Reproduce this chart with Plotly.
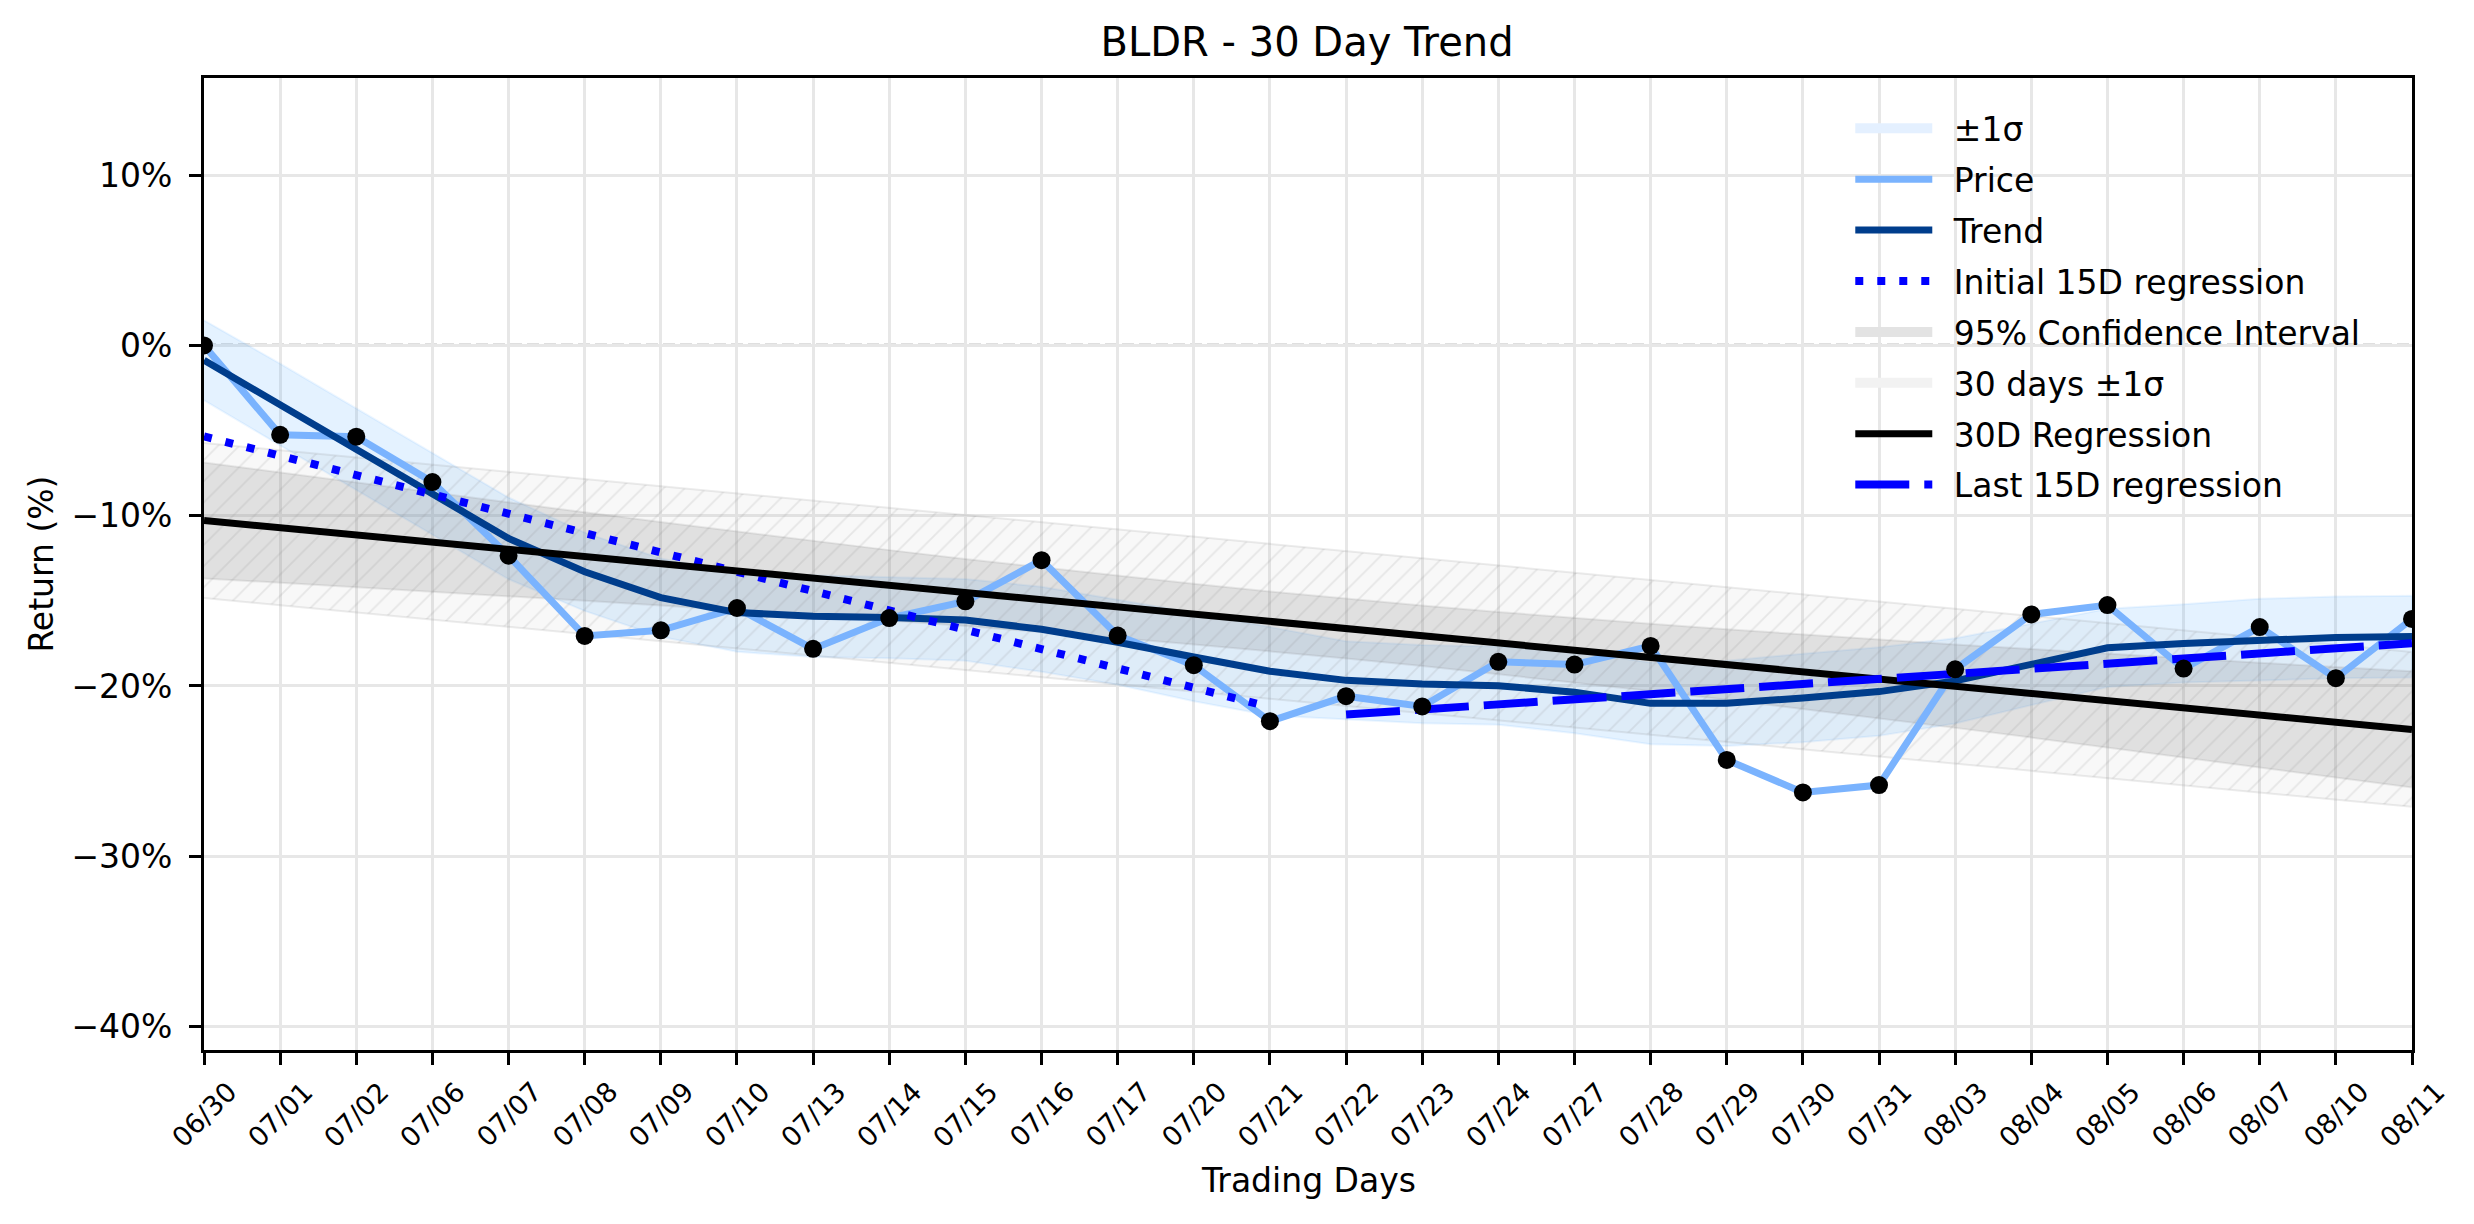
import plotly.graph_objects as go

days = ["06/30", "07/01", "07/02", "07/06", "07/07", "07/08", "07/09", "07/10",
        "07/13", "07/14", "07/15", "07/16", "07/17", "07/20", "07/21", "07/22",
        "07/23", "07/24", "07/27", "07/28", "07/29", "07/30", "07/31", "08/03",
        "08/04", "08/05", "08/06", "08/07", "08/10", "08/11"]

# cumulative return in %
price = [0.0, -5.25, -5.36, -8.02, -12.35, -17.06, -16.73, -15.42, -17.82, -16.01,
         -15.03, -12.61, -17.04, -18.78, -22.07, -20.6, -21.2, -18.58, -18.74, -17.65,
         -24.34, -26.25, -25.82, -19.02, -15.8, -15.25, -18.98, -16.54, -19.54, -16.06]

trend = [-0.87, -3.47, -6.1, -8.71, -11.33, -13.29, -14.81, -15.69, -15.9, -15.97,
         -16.12, -16.67, -17.43, -18.3, -19.13, -19.67, -19.89, -19.98, -20.37, -21.02,
         -21.02, -20.7, -20.33, -19.7, -18.74, -17.76, -17.5, -17.28, -17.15, -17.1]

# half width of the +-1 sigma band around the trend
trend_sigma = [2.35, 2.4, 2.4, 2.4, 2.4, 2.3, 2.3, 2.3, 2.4, 2.4,
               2.4, 2.5, 2.5, 2.6, 2.6, 2.3, 2.3, 2.3, 2.4, 2.4,
               2.5, 2.6, 2.6, 2.5, 2.4, 2.3, 2.3, 2.4, 2.4, 2.4]

reg30_days = ["06/30", "08/11"]
reg30_vals = [-10.28, -22.55]

ci_upper = [-6.87, -7.46, -8.06, -8.64, -9.22, -9.80, -10.37, -10.93, -11.47, -12.02,
            -12.54, -13.04, -13.54, -14.00, -14.45, -14.88, -15.27, -15.65, -16.01, -16.35,
            -16.67, -16.98, -17.28, -17.56, -17.83, -18.11, -18.37, -18.63, -18.89, -19.14]
ci_lower = [-13.69, -13.94, -14.20, -14.46, -14.72, -15.00, -15.27, -15.55, -15.85, -16.16,
            -16.48, -16.82, -17.18, -17.56, -17.95, -18.38, -18.83, -19.29, -19.79, -20.29,
            -20.81, -21.36, -21.90, -22.46, -23.03, -23.61, -24.19, -24.77, -25.37, -25.96]

sd30_upper = [-5.73, -18.0]
sd30_lower = [-14.83, -27.1]

init15_days = ["06/30", "07/21"]
init15_vals = [-5.34, -21.24]
last15_days = ["07/22", "08/11"]
last15_vals = [-21.68, -17.49]

yticks = [-40, -30, -20, -10, 0, 10]
ytick_text = ["\u221240%", "\u221230%", "\u221220%", "\u221210%", "0%", "10%"]

FONT = "DejaVu Sans"
PAD = "\u2002"  # small gap between legend symbol and label

sig_up = [t + s for t, s in zip(trend, trend_sigma)]
sig_lo = [t - s for t, s in zip(trend, trend_sigma)]

fig = go.Figure()

# bands (legend entries come from the patch proxies below)
fig.add_trace(go.Scatter(
    x=days + days[::-1], y=sig_up + sig_lo[::-1],
    fill="toself", fillcolor="rgba(30,144,255,0.12)",
    line=dict(color="rgba(30,144,255,0.08)", width=2),
    mode="lines", showlegend=False, hoverinfo="skip"))

fig.add_trace(go.Scatter(
    x=days + days[::-1], y=ci_upper + ci_lower[::-1],
    fill="toself", fillcolor="rgba(128,128,128,0.2)",
    line=dict(color="rgba(128,128,128,0.15)", width=2),
    mode="lines", showlegend=False, hoverinfo="skip"))

fig.add_trace(go.Scatter(
    x=reg30_days + reg30_days[::-1], y=sd30_upper + sd30_lower[::-1],
    fill="toself", fillcolor="rgba(128,128,128,0.05)",
    fillpattern=dict(shape="/", fgcolor="rgba(128,128,128,0.3)",
                     bgcolor="rgba(128,128,128,0.05)", size=15, solidity=0.12),
    line=dict(color="rgba(128,128,128,0.15)", width=2),
    mode="lines", showlegend=False, hoverinfo="skip"))

fig.add_hline(y=0, line=dict(color="#808080", width=3.3, dash="12px,5px"), layer="below")

fig.add_trace(go.Scatter(
    x=days, y=price, mode="lines", name=PAD + "Price",
    line=dict(color="#7ab3fe", width=7), legendrank=2, legendgroup="b"))

fig.add_trace(go.Scatter(
    x=days, y=trend, mode="lines", name=PAD + "Trend",
    line=dict(color="#003d8c", width=7), legendrank=3, legendgroup="c"))

fig.add_trace(go.Scatter(
    x=init15_days, y=init15_vals, mode="lines", name=PAD + "Initial 15D regression",
    line=dict(color="#0000ff", width=8, dash="8px,14px"), legendrank=4, legendgroup="d"))

fig.add_trace(go.Scatter(
    x=reg30_days, y=reg30_vals, mode="lines", name=PAD + "30D Regression",
    line=dict(color="black", width=7), legendrank=7, legendgroup="g"))

fig.add_trace(go.Scatter(
    x=last15_days, y=last15_vals, mode="lines", name=PAD + "Last 15D regression",
    line=dict(color="#0000ff", width=8, dash="54px,15px"), legendrank=8, legendgroup="h"))

fig.add_trace(go.Scatter(
    x=days, y=price, mode="markers", showlegend=False,
    marker=dict(color="black", size=18)))

# legend patches for the shaded bands
patches = [("\u00b11\u03c3", "#e4f0ff", 1, "a"),
           ("95% Confidence Interval", "#e3e3e3", 5, "e"),
           ("30 days \u00b11\u03c3", "#f2f2f2", 6, "f")]
for name, color, rank, grp in patches:
    fig.add_trace(go.Scatter(
        x=[None], y=[None], mode="lines", name=PAD + name,
        line=dict(color=color, width=26), legendrank=rank, legendgroup=grp))

annotations = []
for d in days:
    annotations.append(dict(
        x=d, y=-0.066, xref="x", yref="paper", text=d, showarrow=False,
        textangle=-45, xanchor="center", yanchor="middle",
        font=dict(family=FONT, size=27, color="black")))
annotations.append(dict(
    x=0.5, y=-0.134, xref="paper", yref="paper", text="Trading Days", showarrow=False,
    xanchor="center", yanchor="middle", font=dict(family=FONT, size=33, color="black")))
annotations.append(dict(
    x=-0.074, y=0.5, xref="paper", yref="paper", text="Return (%)", showarrow=False,
    textangle=-90, xanchor="center", yanchor="middle",
    font=dict(family=FONT, size=33, color="black")))

fig.update_layout(
    width=2458, height=1208,
    margin=dict(l=196, r=54, t=70, b=166),
    paper_bgcolor="white", plot_bgcolor="white",
    font=dict(family=FONT, size=33, color="black"),
    title=dict(text="BLDR - 30 Day Trend", x=0.5285, xanchor="center",
               y=1 - 34 / 1208, yanchor="middle", yref="container",
               font=dict(family=FONT, size=40, color="black")),
    showlegend=True,
    legend=dict(x=0.7456, y=0.977, xanchor="left", yanchor="top",
                bgcolor="rgba(0,0,0,0)", borderwidth=0,
                font=dict(family=FONT, size=33, color="black"),
                itemwidth=77, tracegroupgap=5, traceorder="grouped"),
    annotations=annotations,
)

fig.update_xaxes(
    type="category", range=[0, len(days) - 1],
    showgrid=True, gridcolor="#e7e7e7", gridwidth=3,
    showline=True, linecolor="black", linewidth=3, mirror=True,
    ticks="outside", ticklen=12, tickwidth=3, tickcolor="black",
    showticklabels=False, zeroline=False)

fig.update_yaxes(
    range=[-41.38, 15.71], tickvals=yticks, ticktext=ytick_text,
    showgrid=True, gridcolor="#e7e7e7", gridwidth=3,
    showline=True, linecolor="black", linewidth=3, mirror=True,
    ticks="outside", ticklen=12, tickwidth=3, tickcolor="black",
    ticklabelstandoff=10, zeroline=False,
    tickfont=dict(family=FONT, size=33, color="black"))

fig.write_html("out.html")
